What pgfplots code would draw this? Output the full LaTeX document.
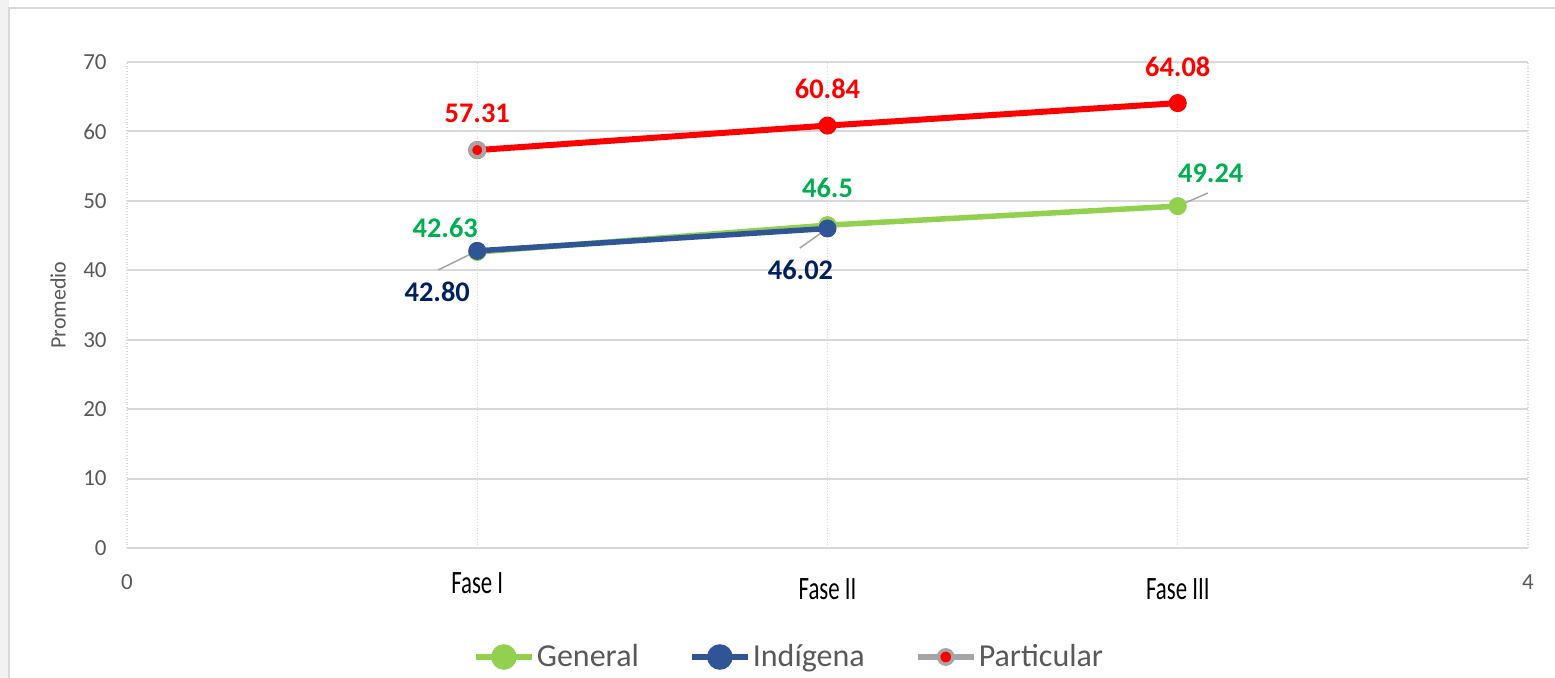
\documentclass[border=0pt]{standalone}
\usepackage{pgfplots}
\pgfplotsset{compat=1.18}
\usepackage{pgfplotstable}
\usepackage{fontspec}
\setmainfont{Carlito}
\usetikzlibrary{calc}
\definecolor{general}{HTML}{92D050}
\definecolor{indigena}{HTML}{2F5597}
\definecolor{partred}{HTML}{FF0000}
\definecolor{partgray}{HTML}{A5A5A5}
\definecolor{lblgreen}{HTML}{00B050}
\definecolor{lblnavy}{HTML}{002060}
\definecolor{gridgray}{HTML}{D9D9D9}
\definecolor{txtgray}{HTML}{595959}
\definecolor{framebg}{HTML}{F2F2F2}

% x  y  label  label offset (pt)
\pgfplotstableread{
x y lab dx dy
1 42.63 42.63 -16 12
2 46.5 46.5 0 18.5
3 49.24 49.24 16.5 16.5
}\general
\pgfplotstableread{
x y lab dx dy
1 42.80 42.80 -20 -20.5
2 46.02 46.02 -13.5 -20.5
}\indigena
\pgfplotstableread{
x y lab dx dy
1 57.31 57.31 0 18.5
2 60.84 60.84 0 18.5
3 64.08 64.08 0 18
}\particular

\newcommand{\fase}[2]{\raisebox{#1}{\color{black}\fontsize{16.3}{18}\selectfont\scalebox{0.7}[1]{#2}}}

\pgfplotsset{
  vallabels/.style={
    nodes near coords, point meta=explicit symbolic,
    visualization depends on={\thisrow{dx}\as\dx},
    visualization depends on={\thisrow{dy}\as\dy},
    every node near coord/.style={anchor=center, inner sep=0pt,
      xshift=\dx pt, yshift=\dy pt,
      font=\fontsize{14.2}{16}\selectfont\bfseries, text=#1}},
  legline/.style={legend image code/.code={
    \draw[##1, line width=3pt] (0pt,0pt) -- (28pt,0pt);
    \fill[##1] (14pt,0pt) circle (5pt);}},
}

\begin{document}
\begin{tikzpicture}
\begin{axis}[
    name=ax,
    scale only axis,
    width=700.5pt, height=243pt,
    xmin=0, xmax=4, ymin=0, ymax=70,
    clip=false,
    axis x line*=bottom, axis y line*=left,
    x axis line style={draw=gridgray, line width=1pt},
    y axis line style={draw=none},
    major tick length=0pt,
    /pgf/number format/assume math mode=true,
    ytick={0,10,...,70},
    xtick={0,1,2,3,4},
    xticklabels={0,\fase{-2.25pt}{Fase I},\fase{-5.25pt}{Fase II},\fase{-5.25pt}{Fase III},4},
    xmajorgrids, ymajorgrids,
    x grid style={densely dotted, gridgray, line width=0.6pt},
    y grid style={solid, gridgray, line width=1pt},
    yticklabel style={anchor=east, inner sep=0pt, xshift=-10pt,
      font=\fontsize{11.5}{13}\selectfont, text=txtgray},
    xticklabel style={anchor=base, yshift=-20.75pt,
      font=\fontsize{11.5}{13}\selectfont, text=txtgray},
    ylabel={Promedio},
    ylabel style={at={(axis description cs:-0.04925,0.5)}, anchor=center,
      font=\fontsize{11}{13}\selectfont, text=txtgray},
    legend columns=3,
    legend style={at={(axis description cs:0.4725,-0.2243)}, anchor=center,
      draw=none, fill=none,
      nodes={inner sep=1pt, text=txtgray},
      font=\fontsize{16}{18}\selectfont,
      /tikz/every even column/.append style={column sep=24pt}},
]
\addplot[general, line width=2.75pt, mark=*, mark size=4.3pt,
  mark options={draw=general, fill=general, line width=0.4pt},
  legline=general, vallabels=lblgreen]
  table[x=x, y=y, meta=lab] {\general};
\addlegendentry{General}
\addplot[indigena, line width=2.75pt, mark=*, mark size=4.3pt,
  mark options={draw=indigena, fill=indigena, line width=0.4pt},
  legline=indigena, vallabels=lblnavy]
  table[x=x, y=y, meta=lab] {\indigena};
\addlegendentry{Indígena}
\addplot[partred, line width=3pt, mark=*, mark size=4.3pt,
  mark options={draw=partred, fill=partred, line width=0.4pt},
  vallabels=partred,
  legend image code/.code={
    \draw[partgray, line width=3pt] (0pt,0pt) -- (28pt,0pt);
    \filldraw[draw=partgray, fill=partred, line width=1.7pt] (14pt,0pt) circle (3.6pt);}]
  table[x=x, y=y, meta=lab] {\particular};
\addlegendentry{Particular}
% first point of Particular keeps the grey ring
\addplot[forget plot, only marks, mark=*, mark size=3.5pt,
  mark options={draw=partgray, fill=partred, line width=2pt}]
  coordinates {(1,57.31)};
% leader lines
\draw[partgray, line width=0.75pt] (axis cs:0.888,40.04) -- (axis cs:1,42.8);
\draw[partgray, line width=0.75pt] (axis cs:1.921,43.2) -- (axis cs:2,46.02);
\draw[partgray, line width=0.75pt] (axis cs:3,49.24) -- (axis cs:3.086,51.13);
\end{axis}
\path (ax.south west) ++(-63.5pt,-65pt) coordinate (BL);
\path (ax.north east) ++(13.5pt,31pt) coordinate (TR);
\useasboundingbox (BL) rectangle (TR);
\fill[framebg] (BL) rectangle ($(BL|-TR)+(4.5pt,0)$);
\draw[gridgray, line width=1pt] ($(BL)+(4.5pt,0)$) -- ($(BL|-TR)+(4.5pt,-4pt)$) -- ($(TR)+(0,-4pt)$);
\end{tikzpicture}
\end{document}
